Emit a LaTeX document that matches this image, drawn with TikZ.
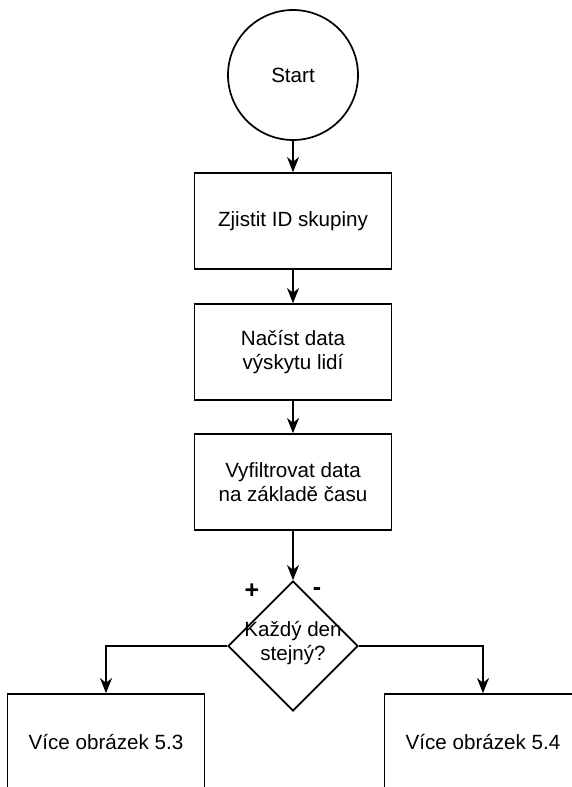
\documentclass[tikz,border=0pt]{standalone}
\usepackage{fontspec}
\setmainfont{Liberation Sans}
\usepackage{tikz}
\usetikzlibrary{arrows.meta}
\usetikzlibrary{shapes.geometric}

\tikzset{
  flowline/.style={line width=1.7pt, -{Stealth[length=15pt, width=12pt, inset=4.5pt]}},
  stepbox/.style={draw, line width=1.7pt, rectangle, minimum width=197pt, minimum height=96pt, align=center, inner sep=0pt},
  startnode/.style={draw, line width=1.7pt, circle, minimum size=130pt, inner sep=0pt},
  decision/.style={draw, line width=1.7pt, diamond, minimum width=130pt, minimum height=130pt, inner sep=0pt},
  branchlabel/.style={font=\fontsize{25}{28}\selectfont\bfseries, inner sep=0pt}
}

\begin{document}
\begin{tikzpicture}[x=1pt, y=-1pt, font=\fontsize{20.6}{24}\selectfont]
                  \useasboundingbox (0,0) rectangle (571,787);

                  % Define nodes
                  \node[startnode] (start) at (293,75) {Start};
                  \node[stepbox] (groupid) at (293,221) {Zjistit ID skupiny};
                  \node[stepbox] (loaddata) at (293,352) {Načíst data\\výskytu lidí};
                  \node[stepbox] (filter) at (293,482) {Vyfiltrovat data\\na základě času};
                  \node[decision] (sameday) at (293,646) {};
                  \node[align=center] (samedaytext) at (293,643) {Každý den\\stejný?};
                  \node[stepbox] (fig53) at (106,742) {Více obrázek 5.3};
                  \node[stepbox] (fig54) at (483,742) {Více obrázek 5.4};

                  % Branch labels
                  \node[branchlabel] (plus) at (252,591) {+};
                  \node[branchlabel] (minus) at (317,592) {-};

                  % Draw the connectors
                  \draw[flowline] (start) -- (groupid);
                  \draw[flowline] (groupid) -- (loaddata);
                  \draw[flowline] (loaddata) -- (filter);
                  \draw[flowline] (filter) -- (sameday);
                  \draw[flowline] (sameday.west) -| (fig53.north);
                  \draw[flowline] (sameday.east) -| (fig54.north);

              \end{tikzpicture}
\end{document}
